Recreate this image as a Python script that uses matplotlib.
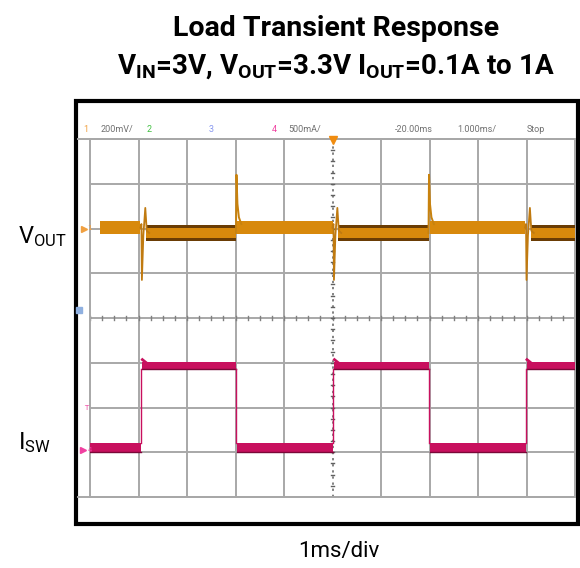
import matplotlib
matplotlib.use("Agg")
import matplotlib.pyplot as plt
from matplotlib.patches import Rectangle
import numpy as np

# ---------------- data (in scope divisions) ----------------
# load-step edges (time, div; 1 div = 1 ms)
step_up_times = [1.06, 5.02, 8.99]      # 0.1A -> 1A
step_down_times = [3.02, 6.99]          # 1A -> 0.1A

# VOUT band segments: start, end, upper, lower  (light load = 0.1A, heavy = 1A)
vout_seg_start = [0.21, 1.16, 3.03, 5.12, 7.00, 9.09]
vout_seg_end = [1.04, 3.01, 5.00, 6.98, 8.97, 10.0]
vout_seg_hi = [2.17, 2.08, 2.17, 2.08, 2.17, 2.08]
vout_seg_lo = [1.88, 1.72, 1.88, 1.72, 1.88, 1.72]
vout_heavy_inner_hi = 2.02
vout_heavy_inner_lo = 1.79

# VOUT transient shapes relative to edge (dt, level)
under_dt = [-0.02, 0.0, 0.01, 0.04, 0.08, 0.11, 0.16]
under_v = [2.02, 2.10, 0.85, 1.85, 2.46, 1.95, 1.90]
over_dt = [-0.01, 0.0, 0.02, 0.05, 0.10]
over_v = [1.90, 3.20, 2.55, 2.25, 2.10]

# ISW band segments: start, end, upper, lower
isw_seg_start = [0.0, 1.08, 3.04, 5.03, 7.00, 9.00]
isw_seg_end = [1.05, 3.01, 5.01, 6.98, 8.98, 10.0]
isw_seg_hi = [-2.79, -0.98, -2.79, -0.98, -2.79, -0.98]
isw_seg_lo = [-3.00, -1.14, -3.00, -1.14, -3.00, -1.14]
isw_edge_times = [1.06, 3.02, 5.02, 6.99, 8.99]
isw_high_peak = -0.93

header_texts = ["1", "200mV/", "2", "3", "4", "500mA/", "-20.00ms", "1.000ms/", "Stop"]
header_x = [83, 101, 147, 209, 272, 288, 395, 457, 527]
header_colors = ["#f0a040", "#707070", "#40c040", "#8898f0", "#f040a0",
                 "#707070", "#707070", "#707070", "#707070"]

# ---------------- figure ----------------
W, H = 580, 568
fig = plt.figure(figsize=(W / 100, H / 100), dpi=100)
fig.patch.set_facecolor("white")

bg = fig.add_axes([0, 0, 1, 1])
bg.set_xlim(0, W)
bg.set_ylim(H, 0)
bg.axis("off")

narrow = ["Roboto", "DejaVu Sans"]

# titles
bg.text(336, 28, "Load Transient Response", ha="center", va="center",
        fontsize=20.5, fontweight="bold", family=narrow)
bg.text(336, 67,
        r"$\mathregular{V_{IN}}$=3V, $\mathregular{V_{OUT}}$=3.3V "
        r"$\mathregular{I_{OUT}}$=0.1A to 1A",
        ha="center", va="center", fontsize=20, fontweight="bold", family=narrow)

# outer frame
bg.add_patch(Rectangle((76, 101), 502, 423, fill=False, lw=3.0, ec="black"))

# header texts
for t, x, c in zip(header_texts, header_x, header_colors):
    bg.text(x, 129, t, ha="left", va="center", fontsize=6.5, color=c, family=narrow)

# top / bottom grid lines that extend to left margin
bg.plot([78, 575], [139, 139], color="#a8a8a8", lw=1.4)
bg.plot([78, 575], [497, 497], color="#a8a8a8", lw=1.4)

# side labels
bg.text(18, 237, r"$\mathregular{V_{OUT}}$", ha="left", va="center", fontsize=17, family=narrow)
bg.text(18, 443, r"$\mathregular{I_{SW}}$", ha="left", va="center", fontsize=17, family=narrow)
bg.text(339, 551, "1ms/div", ha="center", va="center", fontsize=16, family=narrow)

# ---------------- scope axes ----------------
ax = fig.add_axes([90 / W, 1 - 497 / H, 485 / W, 358 / H])
ax.set_xlim(0, 10)
ax.set_ylim(-4, 4)
ax.set_xticks([])
ax.set_yticks([])
for s in ax.spines.values():
    s.set_color("#a8a8a8")
    s.set_linewidth(1.4)
ax.patch.set_alpha(0)

gc = "#a8a8a8"
for xv in range(1, 10):
    if xv == 5:
        ax.axvline(xv, color="#606060", lw=1.1, ls=(0, (1.5, 2.5)), zorder=1)
    else:
        ax.axvline(xv, color=gc, lw=1.4, zorder=1)
for yv in range(-3, 4):
    ax.axhline(yv, color=gc, lw=1.4, zorder=1)

# minor ticks on center lines
mt = np.arange(0, 10.01, 0.25)
for xv in mt:
    ax.plot([xv, xv], [-0.05, 0.05], color="#808080", lw=1.0, zorder=1)
mty = np.arange(-4, 4.01, 0.25)
for yv in mty:
    ax.plot([4.96, 5.04], [yv, yv], color="#606060", lw=1.0, zorder=1)

# trigger marker
ax.plot([5], [3.97], marker="v", color="#f08c10", ms=6, clip_on=False, zorder=5)

# ---- VOUT ----
orange = "#d8890c"
dark = "#6a3c04"
for s, e, hi, lo in zip(vout_seg_start, vout_seg_end, vout_seg_hi, vout_seg_lo):
    heavy = hi < 2.1
    if heavy:
        ax.fill_between([s, e], [lo, lo], [hi, hi], color=dark, lw=0, zorder=3)
        ax.fill_between([s, e], [vout_heavy_inner_lo] * 2, [vout_heavy_inner_hi] * 2,
                        color=orange, lw=0, zorder=3)
    else:
        ax.fill_between([s, e], [lo, lo], [hi, hi], color=orange, lw=0, zorder=3)
for t in step_up_times:
    ax.plot([t + d for d in under_dt], under_v, color="#c07a10", lw=1.3, zorder=4)
for t in step_down_times:
    ax.plot([t + d for d in over_dt], over_v, color="#c8820e", lw=1.4, zorder=4)

# ---- ISW ----
pink = "#c8105e"
for s, e, hi, lo in zip(isw_seg_start, isw_seg_end, isw_seg_hi, isw_seg_lo):
    ax.fill_between([s, e], [lo, lo], [hi, hi], color=pink, lw=0, zorder=3)
    ax.plot([s, e], [lo, lo], color="#7a0838", lw=1.0, zorder=3)
for i, t in enumerate(isw_edge_times):
    ax.plot([t, t], [isw_seg_hi[0], isw_seg_lo[1]], color=pink, lw=1.0, zorder=3)
for t in step_up_times:
    ax.plot([t + 0.02, t + 0.1], [isw_high_peak, -1.0], color=pink, lw=2.0, zorder=3)

# left channel markers
ax.plot([-0.12], [2.0], marker=">", color="#f0a040", ms=4, clip_on=False)
ax.text(-0.05, 2.0, "1", color="#f0a040", fontsize=5, va="center", clip_on=False)
ax.plot([-0.22], [0.18], marker="s", color="#8fb0e0", ms=4, clip_on=False)
ax.text(-0.12, -2.0, "T", color="#f040a0", fontsize=5, va="center", clip_on=False)
ax.plot([-0.15], [-2.95], marker=">", color="#f040a0", ms=4, clip_on=False)
ax.text(-0.05, -2.95, "4", color="#f040a0", fontsize=5, va="center", clip_on=False)

fig.savefig("out.png", dpi=100, facecolor="white")
